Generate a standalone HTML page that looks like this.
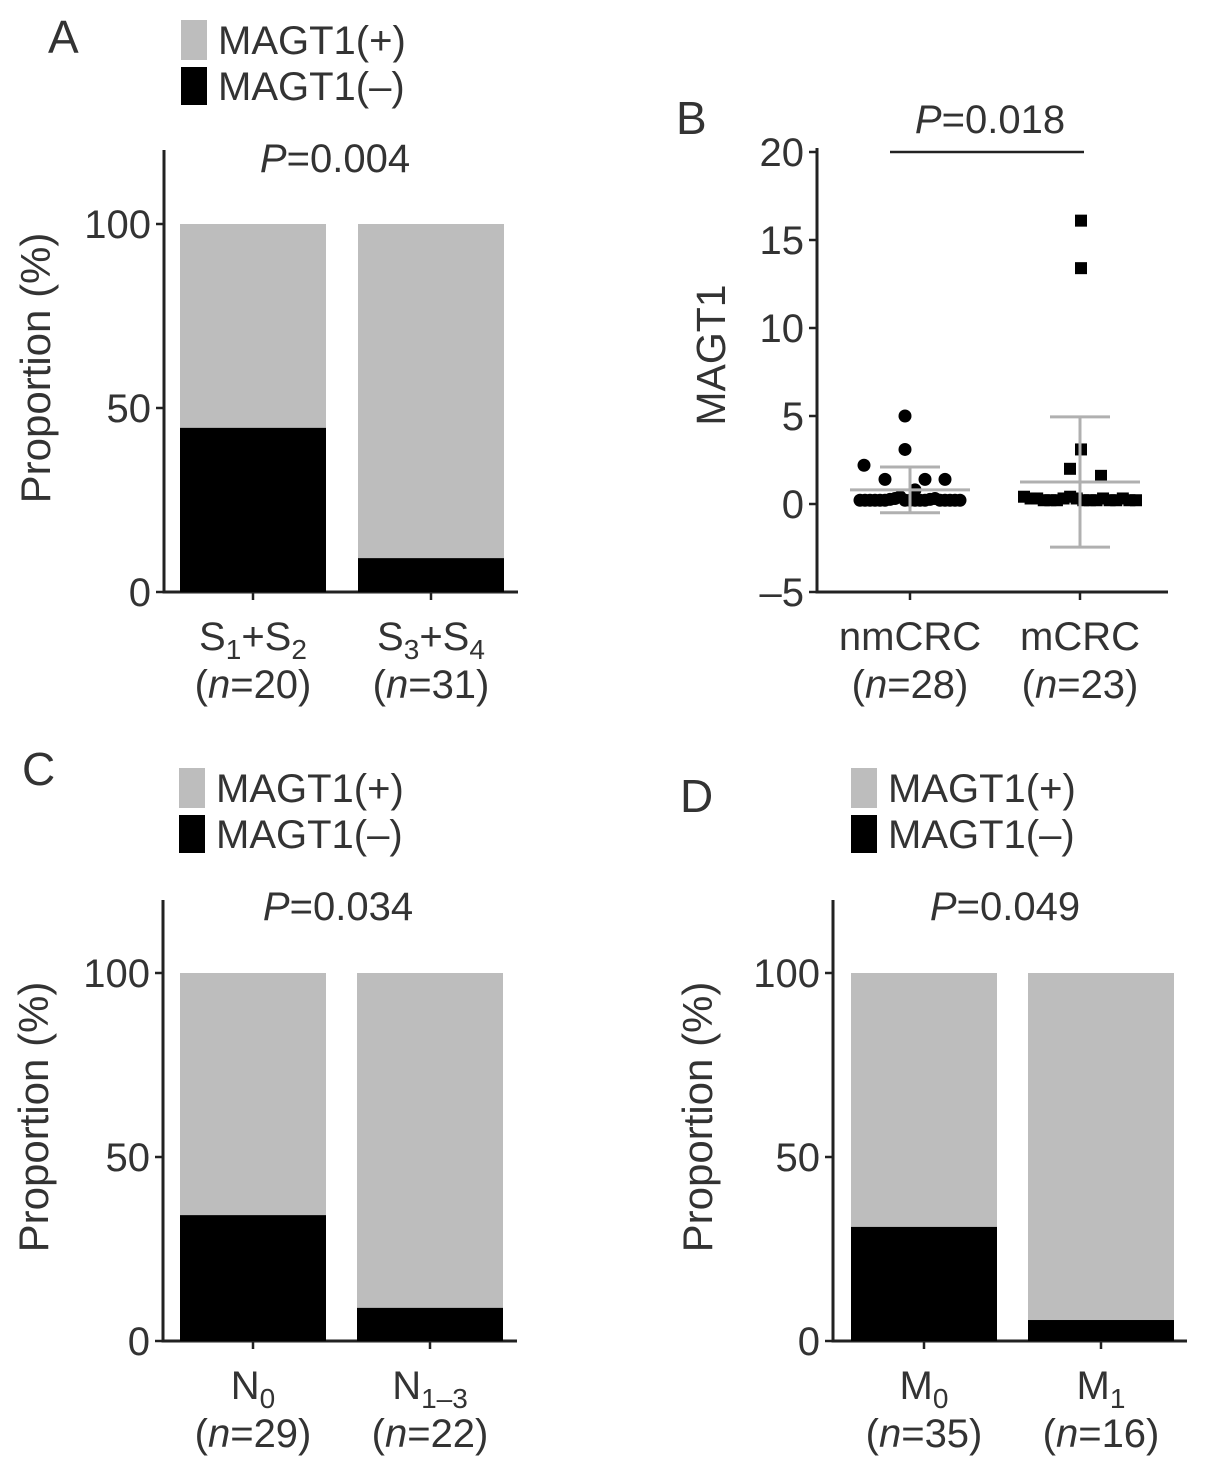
<!DOCTYPE html>
<html><head><meta charset="utf-8">
<style>
html,body{margin:0;padding:0;background:#fff;}
svg{display:block;font-family:"Liberation Sans",sans-serif;}
text{fill:#333;}
</style></head>
<body>
<svg id="fig" width="1205" height="1473" viewBox="0 0 1205 1473" xmlns="http://www.w3.org/2000/svg"></svg>
<script>
// ---- Data ----
const barCategoriesA = ["S1+S2","S3+S4"];
const barNegA = [44.6, 9.2];
const barNA = [20, 31];
const barCategoriesC = ["N0","N1-3"];
const barNegC = [34.2, 9.0];
const barNC = [29, 22];
const barCategoriesD = ["M0","M1"];
const barNegD = [31.0, 5.7];
const barND = [35, 16];
const pctTicks = [0, 50, 100];
const scatterCategories = ["nmCRC","mCRC"];
const scatterN = [28, 23];
const scatterTicks = [-5, 0, 5, 10, 15, 20];
const nmValues = [5.0,3.1,2.2,1.4,1.4,1.4,0.8,0.1,0.1,0.1,0.1,0.1,0.1,0.15,0.2,0.3,0.1,0.1,0.1,0.1,0.1,0.15,0.2,0.1,0.1,0.1,0.1,0.1];
const mValues = [16.1,13.4,3.1,2.0,1.6,0.3,0.2,0.2,0.1,0.1,0.1,0.2,0.3,0.2,0.1,0.1,0.1,0.2,0.1,0.1,0.2,0.1,0.1];
const scatterMean = [0.8, 1.25];
const scatterSD = [1.3, 3.7];

const FS=40;
const NS="http://www.w3.org/2000/svg";
const svg=document.getElementById('fig');
function el(tag,attrs,parent,text){const e=document.createElementNS(NS,tag);for(const k in attrs)e.setAttribute(k,attrs[k]);if(text!==undefined)e.textContent=text;(parent||svg).appendChild(e);return e;}

function subLabel(g,x,y,parts){
  const t=el('text',{x:x,y:y,'text-anchor':'middle','font-size':FS},g);
  for(const p of parts){const s=el('tspan',{},t,p[0]);if(p[1]){s.setAttribute('font-size',28);s.setAttribute('dy',9);}else if(p[2]){s.setAttribute('dy',-9);}}
  return t;
}

function barPanel(opt){
  const g=el('g',{});
  
  
  const y0=opt.y0, yTop=opt.y100, ax=opt.ax;
  const yS=v=>y0-(v/100)*(y0-yTop);
  const L=el('text',{x:opt.letterX,y:opt.letterY,'font-size':46},g,opt.letter);
  
  const lg=el('g',{},g);
  
  const e1=el('rect',{x:opt.legX,y:opt.legY,width:26,height:40,fill:'#bdbdbd'},lg);
  
  const t1=el('text',{x:opt.legX+37,y:opt.legY+34,'font-size':FS},lg,'MAGT1(+)');
  
  const e2=el('rect',{x:opt.legX,y:opt.legY+47,width:26,height:38,fill:'#000'},lg);
  
  const t2=el('text',{x:opt.legX+37,y:opt.legY+80,'font-size':FS},lg,'MAGT1(–)');
  
  const p=el('text',{x:opt.pX,y:opt.pY,'text-anchor':'middle','font-size':FS},g);
  
  el('tspan',{'font-style':'italic'},p,'P');el('tspan',{},p,'=0.0'+opt.p);
  const ya=el('line',{x1:ax,y1:opt.axTop,x2:ax,y2:y0+1.5,stroke:'#222','stroke-width':3},g);
  
  const xa=el('line',{x1:ax-1.5,y1:y0,x2:opt.axRight,y2:y0,stroke:'#222','stroke-width':3},g);
  
  pctTicks.forEach(v=>{
    el('line',{x1:ax-8,y1:yS(v),x2:ax,y2:yS(v),stroke:'#222','stroke-width':2.5},g);
    const tt=el('text',{x:ax-13,y:yS(v)+14,'text-anchor':'end','font-size':FS},g,String(v));
    
  });
  const yt=el('text',{x:0,y:0,'text-anchor':'middle','font-size':42,transform:`translate(${opt.ytX},${(y0+yTop)/2-40}) rotate(-90)`},g,'Proportion (%)');
  
  opt.neg.forEach((v,i)=>{
    const x=opt.barX[i], w=146;
    const gr=el('rect',{x:x,y:yS(100),width:w,height:yS(0)-yS(100),fill:'#bdbdbd'},g);
    
    const bk=el('rect',{x:x,y:yS(v),width:w,height:yS(0)-yS(v),fill:'#000'},g);
    
    const cx=x+w/2;
    el('line',{x1:cx,y1:y0,x2:cx,y2:y0+8,stroke:'#222','stroke-width':2.5},g);
    const cl=subLabel(g,cx,y0+58,opt.catParts[i]);
    
    const nl=el('text',{x:cx,y:y0+106,'text-anchor':'middle','font-size':FS},g);
    
    el('tspan',{},nl,'(');el('tspan',{'font-style':'italic'},nl,'n');el('tspan',{},nl,'='+opt.n[i]+')');
  });
}

barPanel({name:'panel-a',letter:'A',letterX:48,letterY:53,legX:181,legY:20,pX:335,pY:172,p:'04',
  y0:592,y100:224,ax:164,axTop:150,axRight:518,barX:[180,358],neg:barNegA,n:barNA,ytX:50,
  catParts:[[['S'],['1',1],['+',0,1],['S'],['2',1]],[['S'],['3',1],['+',0,1],['S'],['4',1]]]});
barPanel({name:'panel-c',letter:'C',letterX:22,letterY:785,legX:179,legY:768,pX:338,pY:920,p:'34',
  y0:1341,y100:973,ax:163,axTop:900,axRight:517,barX:[180,357],neg:barNegC,n:barNC,ytX:48,
  catParts:[[['N'],['0',1]],[['N'],['1–3',1]]]});
barPanel({name:'panel-d',letter:'D',letterX:680,letterY:812,legX:851,legY:768,pX:1005,pY:920,p:'49',
  y0:1341,y100:973,ax:833,axTop:900,axRight:1187,barX:[851,1028],neg:barNegD,n:barND,ytX:712,
  catParts:[[['M'],['0',1]],[['M'],['1',1]]]});

// ---- Panel B scatter ----
(function(){
  const g=el('g',{});
  
  const ax=817, yAt=v=>504-v*17.6, yBot=592;
  const L=el('text',{x:676,y:134,'font-size':46},g,'B');
  
  const ya=el('line',{x1:ax,y1:148,x2:ax,y2:yBot+1.5,stroke:'#222','stroke-width':3},g);
  
  const xa=el('line',{x1:ax-1.5,y1:yBot,x2:1168,y2:yBot,stroke:'#222','stroke-width':3},g);
  
  scatterTicks.forEach(v=>{
    el('line',{x1:ax-8,y1:yAt(v),x2:ax,y2:yAt(v),stroke:'#222','stroke-width':2.5},g);
    const tt=el('text',{x:ax-13,y:yAt(v)+14,'text-anchor':'end','font-size':FS},g,v<0?'–'+(-v):String(v));
    
  });
  const yt=el('text',{x:0,y:0,'text-anchor':'middle','font-size':41,transform:'translate(725,355) rotate(-90)'},g,'MAGT1');
  
  const br=el('line',{x1:890,y1:152,x2:1084,y2:152,stroke:'#222','stroke-width':2.5},g);
  
  const p=el('text',{x:990,y:133,'text-anchor':'middle','font-size':FS},g);
  
  el('tspan',{'font-style':'italic'},p,'P');el('tspan',{},p,'=0.018');
  const centers=[910,1080];
  const sets=[nmValues,mValues];
  sets.forEach((vals,gi)=>{
    const cx=centers[gi];
    const low=[],high=[];
    vals.forEach(v=>(v<0.5?low:high).push(v));
    const spread=gi===0?50:56;
    low.forEach((v,i)=>{
      const x=cx-spread+(low.length>1? i*(2*spread)/(low.length-1):spread);
      mark(x,yAt(v)-2,gi);
    });
    const offs=gi===0?[-5,-5,-46,-25,15,35,5]:[1,1,1,-10,21];
    high.forEach((v,i)=>mark(cx+(offs[i]||0),yAt(v),gi));
    const gray='#b0b0b0';
    const m=scatterMean[gi], sd=scatterSD[gi];
    const eb=el('g',{},g);
    
    el('line',{x1:cx,y1:yAt(m+sd),x2:cx,y2:yAt(m-sd),stroke:gray,'stroke-width':3},eb);
    el('line',{x1:cx-30,y1:yAt(m+sd),x2:cx+30,y2:yAt(m+sd),stroke:gray,'stroke-width':3},eb);
    el('line',{x1:cx-30,y1:yAt(m-sd),x2:cx+30,y2:yAt(m-sd),stroke:gray,'stroke-width':3},eb);
    el('line',{x1:cx-60,y1:yAt(m),x2:cx+60,y2:yAt(m),stroke:gray,'stroke-width':3},eb);
    el('line',{x1:cx,y1:yBot,x2:cx,y2:yBot+8,stroke:'#222','stroke-width':2.5},g);
    const cl=el('text',{x:cx,y:yBot+58,'text-anchor':'middle','font-size':FS},g,scatterCategories[gi]);
    
    const nl=el('text',{x:cx,y:yBot+106,'text-anchor':'middle','font-size':FS},g);
    
    el('tspan',{},nl,'(');el('tspan',{'font-style':'italic'},nl,'n');el('tspan',{},nl,'='+scatterN[gi]+')');
  });
  function mark(x,y,gi){
    let m;
    if(gi===0){m=el('circle',{cx:x,cy:y,r:6.5,fill:'#000'},g);}
    else{m=el('rect',{x:x-6,y:y-6,width:12,height:12,fill:'#000'},g);}
    
  }
})();
</script>
</body></html>
